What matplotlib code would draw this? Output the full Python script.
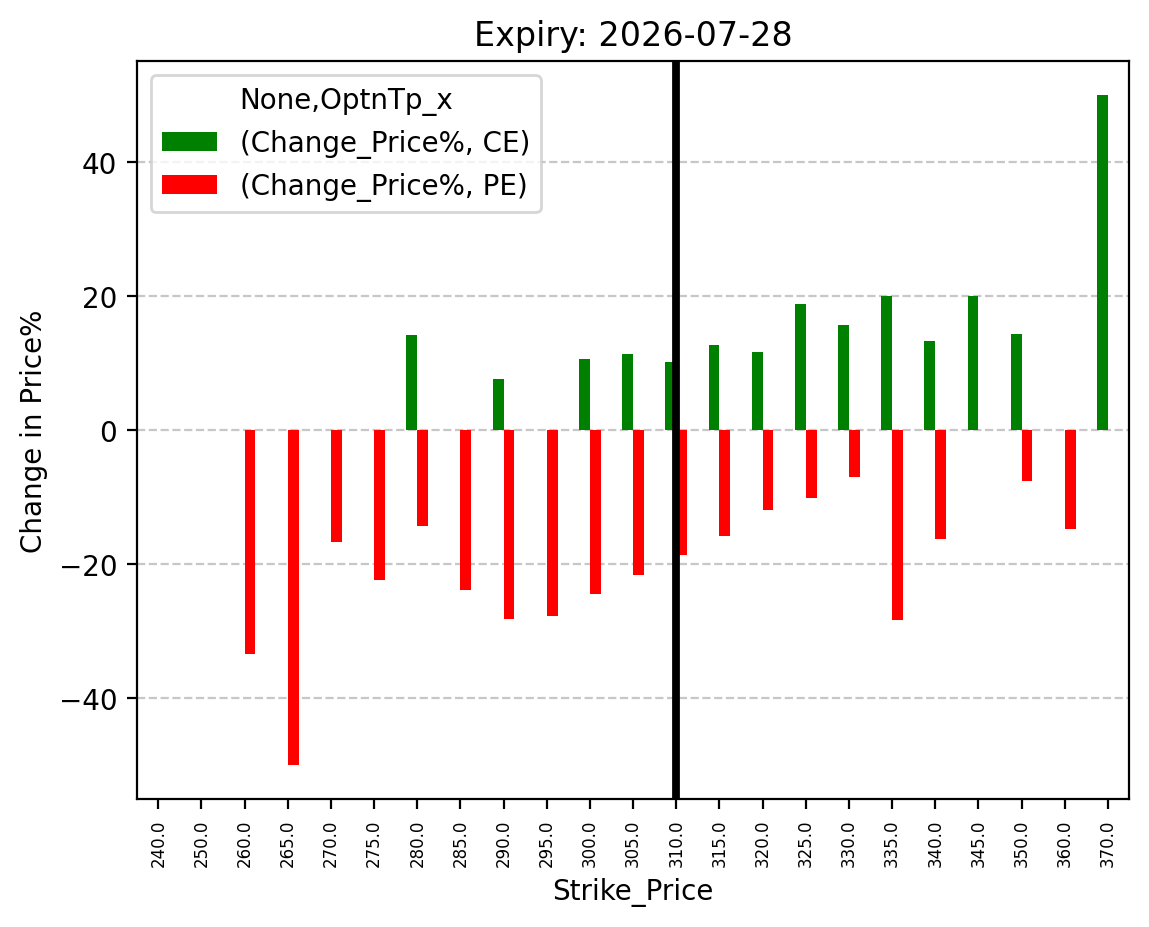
import numpy as np
import matplotlib
matplotlib.use("Agg")
from matplotlib import pyplot as plt

# strikes and % price change per option type (nan = no bar)
strikes = ["240.0", "250.0", "260.0", "265.0", "270.0", "275.0", "280.0", "285.0",
           "290.0", "295.0", "300.0", "305.0", "310.0", "315.0", "320.0", "325.0",
           "330.0", "335.0", "340.0", "345.0", "350.0", "360.0", "370.0"]
nan = np.nan
ce_change = [nan, nan, nan, nan, nan, nan, 14.2, nan,
             7.6, nan, 10.6, 11.3, 10.1, 12.7, 11.6, 18.8,
             15.7, 20.0, 13.3, 20.0, 14.3, nan, 50.0]
pe_change = [nan, nan, -33.4, -50.0, -16.7, -22.4, -14.3, -23.9,
             -28.2, -27.7, -24.5, -21.6, -18.7, -15.8, -11.9, -10.1,
             -7.0, -28.4, -16.2, nan, -7.6, -14.8, nan]
spot_strike = "310.0"

fig, ax = plt.subplots(figsize=(5.745, 4.64), dpi=200)
fig.subplots_adjust(left=0.119, right=0.983, top=0.933, bottom=0.138)

x = np.arange(len(strikes))
w = 0.25
ax.bar(x - w / 2, ce_change, width=w, color='green', label='(Change_Price%, CE)')
ax.bar(x + w / 2, pe_change, width=w, color='red', label='(Change_Price%, PE)')

ax.set_xlim(-0.5, len(strikes) - 0.5)
ax.set_ylim(-55.1, 55.1)
ax.set_xticks(x)
ax.set_xticklabels(strikes, rotation=90, fontsize=6)
ax.axvline(strikes.index(spot_strike), color='black', linewidth=2.8)

ax.grid(axis='y', linestyle='--', alpha=0.7)
ax.set_axisbelow(True)
ax.set_title('Expiry: 2026-07-28')
ax.set_xlabel('Strike_Price')
ax.set_ylabel('Change in Price%')
ax.legend(title='None,OptnTp_x', loc='upper left')

fig.savefig('out.png', dpi=200)
